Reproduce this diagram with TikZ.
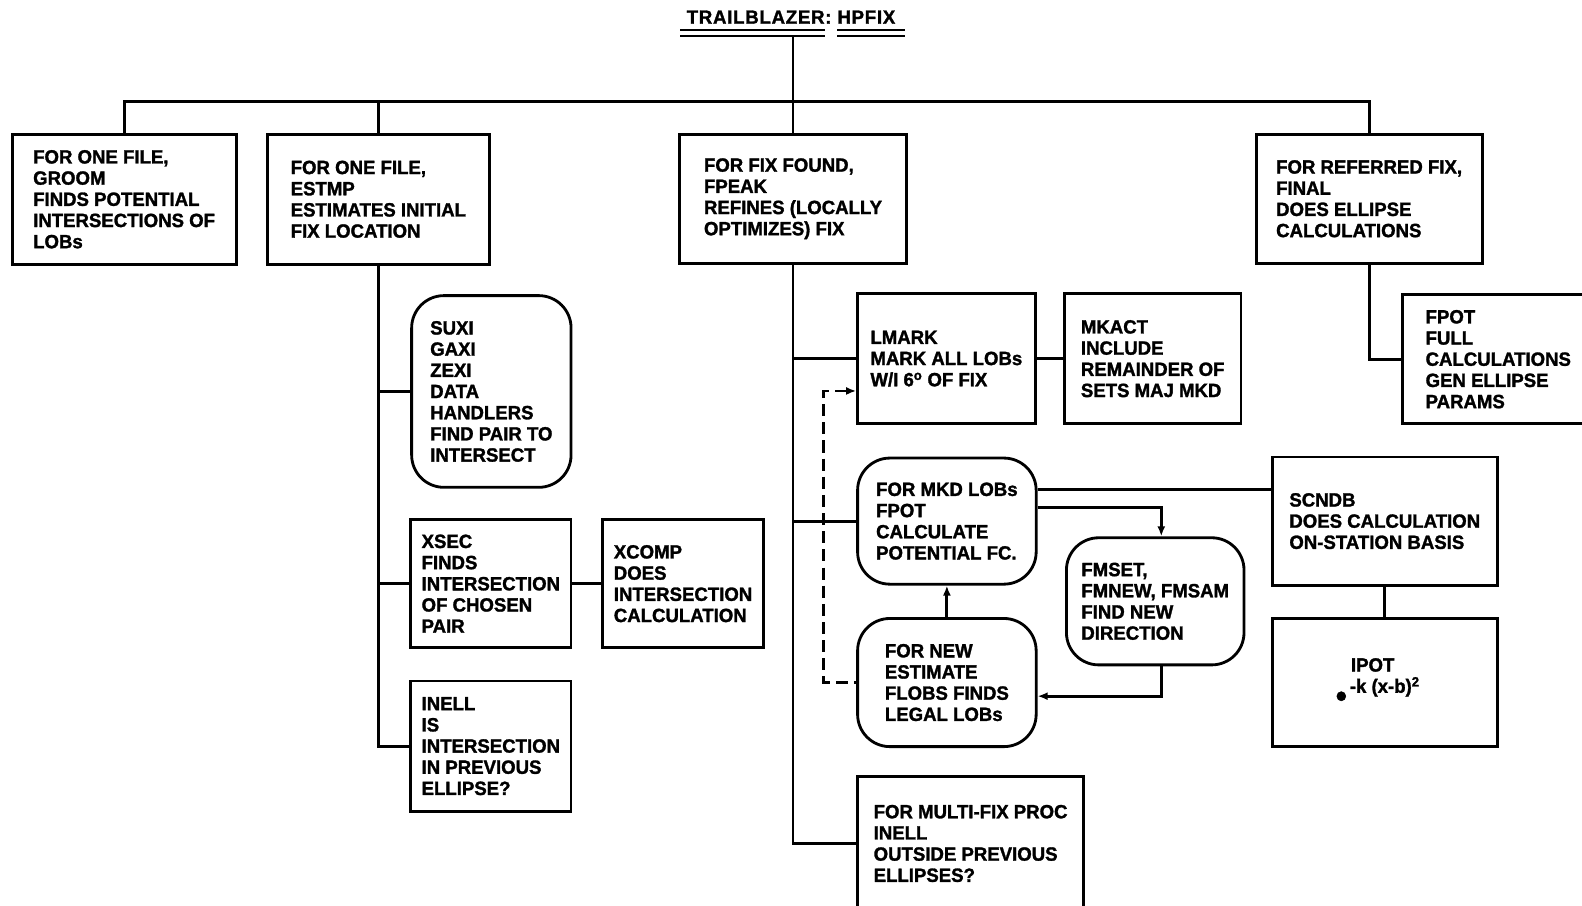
\documentclass[tikz,border=0pt]{standalone}
\usepackage{fontspec}
\setmainfont{Liberation Sans}[FakeStretch=0.97, BoldFeatures={FakeBold=1.5}]
\usetikzlibrary{arrows.meta}

\begin{document}
\begin{tikzpicture}[x=1pt, y=-1pt, line width=2.8pt,
    blk/.style={draw, line width=2.8pt, align=left, inner sep=0pt,
      font=\fontsize{19}{21}\selectfont\bfseries},
    rnd/.style={blk, rounded corners=32pt},
    tip/.style={-{Latex[length=10pt,width=8pt]}}]
      \useasboundingbox (0,0) rectangle (1568,897);
      % title
      \node[font=\fontsize{19}{21}\selectfont\bfseries\addfontfeature{LetterSpace=4}] (title) at (784,17) {TRAILBLAZER: HPFIX};
      \draw[line width=2.2pt] (674,30) -- (818,30) (674,35.5) -- (818,35.5);
      \draw[line width=2.2pt] (830,30) -- (897,30) (830,35.5) -- (897,35.5);
      \coordinate (ttl) at (786,36);
      \coordinate (bus) at (786,101);
      % top row
      \node[blk, minimum width=222pt, minimum height=129pt] (groom) at (123,197.5) {FOR ONE FILE,\\GROOM\\FINDS POTENTIAL\\INTERSECTIONS OF\\LOBs};
      \node[blk, minimum width=220pt, minimum height=129pt] (estmp) at (375,197.5) {FOR ONE FILE,\\ESTMP\\ESTIMATES INITIAL\\FIX LOCATION};
      \node[blk, minimum width=225pt, minimum height=128pt] (fpeak) at (786,197) {FOR FIX FOUND,\\FPEAK\\REFINES (LOCALLY\\OPTIMIZES) FIX};
      \node[blk, minimum width=224pt, minimum height=128pt] (final) at (1357,197) {FOR REFERRED FIX,\\FINAL\\DOES ELLIPSE\\CALCULATIONS};
      % under ESTMP
      \node[rnd, minimum width=158pt, minimum height=190pt] (suxi) at (487,388) {SUXI\\GAXI\\ZEXI\\DATA\\HANDLERS\\FIND PAIR TO\\INTERSECT};
      \node[blk, minimum width=159pt, minimum height=127pt] (xsec) at (486.5,578.5) {XSEC\\FINDS\\INTERSECTION\\OF CHOSEN\\PAIR};
      \node[blk, minimum width=160pt, minimum height=127pt] (xcomp) at (677,578.5) {XCOMP\\DOES\\INTERSECTION\\CALCULATION};
      \node[blk, minimum width=159pt, minimum height=129pt] (inell) at (486.5,739.5) {INELL\\IS\\INTERSECTION\\IN PREVIOUS\\ELLIPSE?};
      % under FPEAK
      \node[blk, minimum width=176pt, minimum height=129pt] (lmark) at (938,355.5) {LMARK\\MARK ALL LOBs\\W/I 6\textsuperscript{o} OF FIX};
      \node[blk, minimum width=175pt, minimum height=129pt] (mkact) at (1142.5,355.5) {MKACT\\INCLUDE\\REMAINDER OF\\SETS MAJ MKD};
      \node[rnd, minimum width=177pt, minimum height=125pt] (fpot) at (938.5,516.5) {FOR MKD LOBs\\FPOT\\CALCULATE\\POTENTIAL FC.};
      \node[rnd, minimum width=177pt, minimum height=127pt] (newest) at (938.5,676.5) {FOR NEW\\ESTIMATE\\FLOBS FINDS\\LEGAL LOBs};
      \node[rnd, minimum width=176pt, minimum height=126pt] (fmset) at (1145,596) {FMSET,\\FMNEW, FMSAM\\FIND NEW\\DIRECTION};
      \node[blk, minimum width=223pt, minimum height=127pt] (scndb) at (1372.5,516.5) {SCNDB\\DOES CALCULATION\\ON-STATION BASIS};
      \node[blk, minimum width=223pt, minimum height=127pt] (ipot) at (1372.5,676.5) {\hspace*{15pt}IPOT\\\raisebox{-14pt}{\fontsize{32}{32}\selectfont\textbullet}\hspace{3pt}{\fontsize{19}{19}\selectfont -k (x-b)\textsuperscript{2}}\hspace*{14pt}};
      \node[blk, minimum width=224pt, minimum height=132pt] (multi) at (962,836) {FOR MULTI-FIX PROC\\INELL\\OUTSIDE PREVIOUS\\ELLIPSES?};
      % under FINAL
      \node[blk, minimum width=190pt, minimum height=128pt] (fpotfull) at (1485,356) {FPOT\\FULL\\CALCULATIONS\\GEN ELLIPSE\\PARAMS};
      % connectors
      \draw (ttl) -- (bus);
      \draw (groom.north) |- (bus) -| (final.north);
      \draw (estmp.north) -- (estmp.north |- bus);
      \draw (fpeak.north) -- (fpeak.north |- bus);
      \draw (estmp.south) |- (inell.west);
      \draw (suxi.west -| estmp.south) -- (suxi.west);
      \draw (xsec.west -| estmp.south) -- (xsec.west);
      \draw (xsec.east) -- (xcomp.west);
      \draw (fpeak.south) |- (multi.west);
      \draw (lmark.west -| fpeak.south) -- (lmark.west);
      \draw (fpot.west -| fpeak.south) -- (fpot.west);
      \draw (lmark.east) -- (mkact.west);
      \coordinate (lm-d) at ([yshift=-32pt]lmark.west);
      \draw[tip, {Latex[length=10pt,width=8pt]}-, dash pattern=on 12pt off 6pt] (lm-d) -- ++(-32,0) |- (newest.west);
      \draw[tip] (newest.north) -- (fpot.south);
      \coordinate (fp-s) at ([yshift=31.5pt]fpot.east);
      \draw (fp-s) -- (fp-s -| scndb.west);
      \coordinate (fp-m) at ([yshift=13.5pt]fpot.east);
      \draw[tip] (fp-m) -| ([xshift=6pt]fmset.north);
      \coordinate (ne-m) at ([yshift=-13.5pt]newest.east);
      \draw[tip] ([xshift=6pt]fmset.south) |- (ne-m);
      \draw (scndb.south) -- (ipot.north);
      \draw (final.south) |- (fpotfull.west);
    \end{tikzpicture}
\end{document}
